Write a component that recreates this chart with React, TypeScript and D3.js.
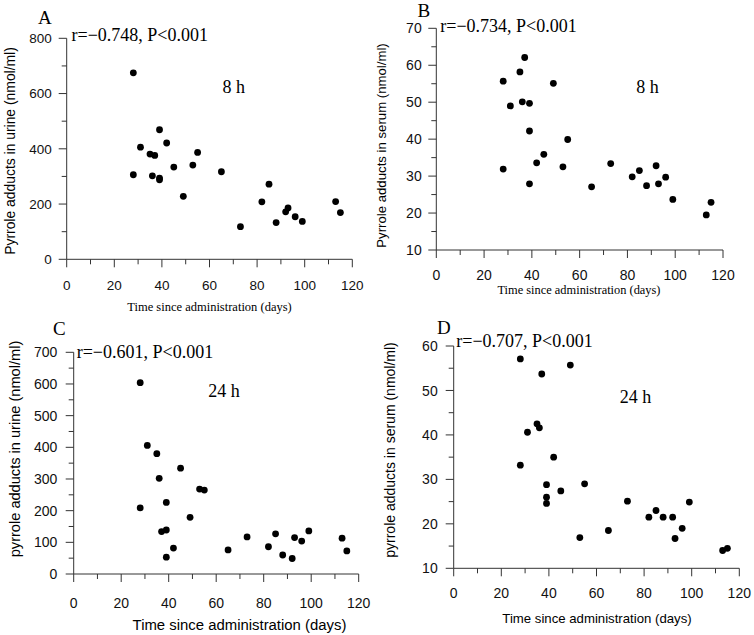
import React from "react";
import * as d3 from "d3";

// ---- data ----
const days = [28, 28, 31, 35, 36, 37, 39, 39, 39, 42, 45, 49, 53, 55, 65, 73, 82, 85, 88, 92, 93, 96, 99, 113, 115];
const urine8h = [675, 306, 406, 381, 302, 376, 469, 294, 288, 421, 334, 228, 341, 387, 317, 118, 208, 272, 133, 172, 186, 154, 137, 209, 169];
const serum8h = [55.7, 31.9, 49.0, 58.2, 50.1, 62.1, 49.7, 42.2, 27.9, 33.6, 35.9, 55.1, 32.5, 39.9, 27.1, 33.4, 29.8, 31.5, 27.4, 32.8, 27.9, 29.7, 23.7, 19.5, 22.9];
const urine24h = [604, 209, 406, 380, 302, 134, 139, 226, 53, 82, 334, 179, 268, 265, 76, 117, 86, 127, 60, 49, 115, 104, 136, 113, 73];
const serum24h = [57.1, 33.2, 40.6, 42.5, 41.6, 53.7, 28.8, 26.0, 24.6, 35.0, 27.4, 55.7, 16.9, 29.0, 18.5, 25.1, 21.5, 23.0, 21.5, 21.5, 16.7, 19.0, 24.9, 14.0, 14.5];

const xTicks = [0, 20, 40, 60, 80, 100, 120];
const xMinor = [10, 30, 50, 70, 90, 110];
const yTicksA = [0, 200, 400, 600, 800];
const yMinorA = [100, 300, 500, 700];
const yTicksB = [10, 20, 30, 40, 50, 60, 70];
const yMinorB = [15, 25, 35, 45, 55, 65];
const yTicksC = [0, 100, 200, 300, 400, 500, 600, 700];
const yMinorC = [50, 150, 250, 350, 450, 550, 650];
const yTicksD = [10, 20, 30, 40, 50, 60];
const yMinorD = [15, 25, 35, 45, 55];

const panelLetters = ["A", "B", "C", "D"];
const corrTexts = ["r=\u22120.748, P<0.001", "r=\u22120.734, P<0.001", "r=\u22120.601, P<0.001", "r=\u22120.707, P<0.001"];
const timeLabels = ["8 h", "8 h", "24 h", "24 h"];
const yTitles = [
  "Pyrrole adducts in urine (nmol/ml)",
  "Pyrrole adducts in serum (nmol/ml)",
  "pyrrole adducts in urine (nmol/ml)",
  "pyrrole adducts in serum (nmol/ml)",
];
const xTitle = "Time since administration (days)";

const SANS = "'Liberation Sans', Arial, sans-serif";
const SERIF = "'Liberation Serif', 'Times New Roman', serif";

// ---- layout ----
const panels = [
  {
    values: urine8h, yDomain: [0, 800], yTicks: yTicksA, yMinor: yMinorA,
    x0: 66.7, x1: 352.3, yTop: 38.3, yBot: 259.3, tickFs: 13.5, xLabOff: 26, yLabGap: 15,
    letter: { x: 38, y: 24 }, corr: { x: 71.5, y: 40.7 }, time: { x: 222.5, y: 93.3 },
    xT: { x: 209.5, y: 310.5, fs: 12.5, font: SERIF },
    yT: { x: 15, y: 151, fs: 13.9 },
  },
  {
    values: serum8h, yDomain: [10, 70], yTicks: yTicksB, yMinor: yMinorB,
    x0: 436.3, x1: 723, yTop: 28.3, yBot: 250, tickFs: 14, xLabOff: 25, yLabGap: 14.6,
    letter: { x: 417.5, y: 17 }, corr: { x: 440.3, y: 31.7 }, time: { x: 636.3, y: 93.3 },
    xT: { x: 579, y: 294, fs: 12.4, font: SERIF },
    yT: { x: 386, y: 145.5, fs: 13.2 },
  },
  {
    values: urine24h, yDomain: [0, 700], yTicks: yTicksC, yMinor: yMinorC,
    x0: 73.7, x1: 358.7, yTop: 352.3, yBot: 574, tickFs: 14, xLabOff: 29, yLabGap: 16.4,
    letter: { x: 53, y: 335 }, corr: { x: 76.7, y: 358.3 }, time: { x: 208.3, y: 397.3 },
    xT: { x: 239.5, y: 630, fs: 14.9, font: SANS },
    yT: { x: 20, y: 449, fs: 14.6 },
  },
  {
    values: serum24h, yDomain: [10, 60], yTicks: yTicksD, yMinor: yMinorD,
    x0: 453.7, x1: 739.3, yTop: 346, yBot: 568.3, tickFs: 14, xLabOff: 25, yLabGap: 16,
    letter: { x: 437, y: 334 }, corr: { x: 456.3, y: 346.7 }, time: { x: 619.7, y: 403.3 },
    xT: { x: 597, y: 622.5, fs: 13.2, font: SANS },
    yT: { x: 395, y: 450, fs: 14 },
  },
];

const AXIS = "#333";
const MAJ = 8;
const MIN = 5;

function Panel({ p, i }: { p: any; i: number }) {
  const x = d3.scaleLinear().domain([0, 120]).range([p.x0, p.x1]);
  const y = d3.scaleLinear().domain(p.yDomain).range([p.yBot, p.yTop]);
  return (
    <g>
      {/* axes */}
      <line x1={p.x0} x2={p.x0} y1={p.yTop} y2={p.yBot} stroke={AXIS} strokeWidth={1} />
      <line x1={p.x0} x2={p.x1} y1={p.yBot} y2={p.yBot} stroke={AXIS} strokeWidth={1} />
      {p.yTicks.map((t: number) => (
        <g key={"yt" + t}>
          <line x1={p.x0 - MAJ} x2={p.x0} y1={y(t)} y2={y(t)} stroke={AXIS} />
          <text x={p.x0 - p.yLabGap} y={y(t)} dy="0.36em" textAnchor="end" fontFamily={SANS} fontSize={p.tickFs} fill="#111">
            {t}
          </text>
        </g>
      ))}
      {p.yMinor.map((t: number) => (
        <line key={"ym" + t} x1={p.x0 - MIN} x2={p.x0} y1={y(t)} y2={y(t)} stroke={AXIS} />
      ))}
      {xTicks.map((t) => (
        <g key={"xt" + t}>
          <line x1={x(t)} x2={x(t)} y1={p.yBot} y2={p.yBot + MAJ} stroke={AXIS} />
          <text x={x(t)} y={p.yBot + p.xLabOff} dy="0.36em" textAnchor="middle" fontFamily={SANS} fontSize={p.tickFs} fill="#111">
            {t}
          </text>
        </g>
      ))}
      {xMinor.map((t) => (
        <line key={"xm" + t} x1={x(t)} x2={x(t)} y1={p.yBot} y2={p.yBot + MIN} stroke={AXIS} />
      ))}
      {/* points */}
      {p.values.map((v: number, k: number) => (
        <circle key={k} cx={x(days[k])} cy={y(v)} r={3.4} fill="#000" />
      ))}
      {/* texts */}
      <text x={p.letter.x} y={p.letter.y} fontFamily={SERIF} fontSize={19} fill="#000">
        {panelLetters[i]}
      </text>
      <text x={p.corr.x} y={p.corr.y} fontFamily={SERIF} fontSize={18} fill="#000">
        {corrTexts[i]}
      </text>
      <text x={p.time.x} y={p.time.y} fontFamily={SERIF} fontSize={18} fill="#000">
        {timeLabels[i]}
      </text>
      <text x={p.xT.x} y={p.xT.y} textAnchor="middle" fontFamily={p.xT.font} fontSize={p.xT.fs} fill="#000">
        {xTitle}
      </text>
      <text
        transform={`translate(${p.yT.x},${p.yT.y}) rotate(-90)`}
        textAnchor="middle"
        fontFamily={SANS}
        fontSize={p.yT.fs}
        fill="#000"
      >
        {yTitles[i]}
      </text>
    </g>
  );
}

export default function App() {
  return (
    <svg
      width={754}
      height={635}
      viewBox="0 0 754 635"
      style={{ position: "absolute", left: 0, top: 0, background: "#fff" }}
    >
      <rect x={0} y={0} width={754} height={635} fill="#fff" />
      {panels.map((p, i) => (
        <Panel key={i} p={p} i={i} />
      ))}
    </svg>
  );
}
